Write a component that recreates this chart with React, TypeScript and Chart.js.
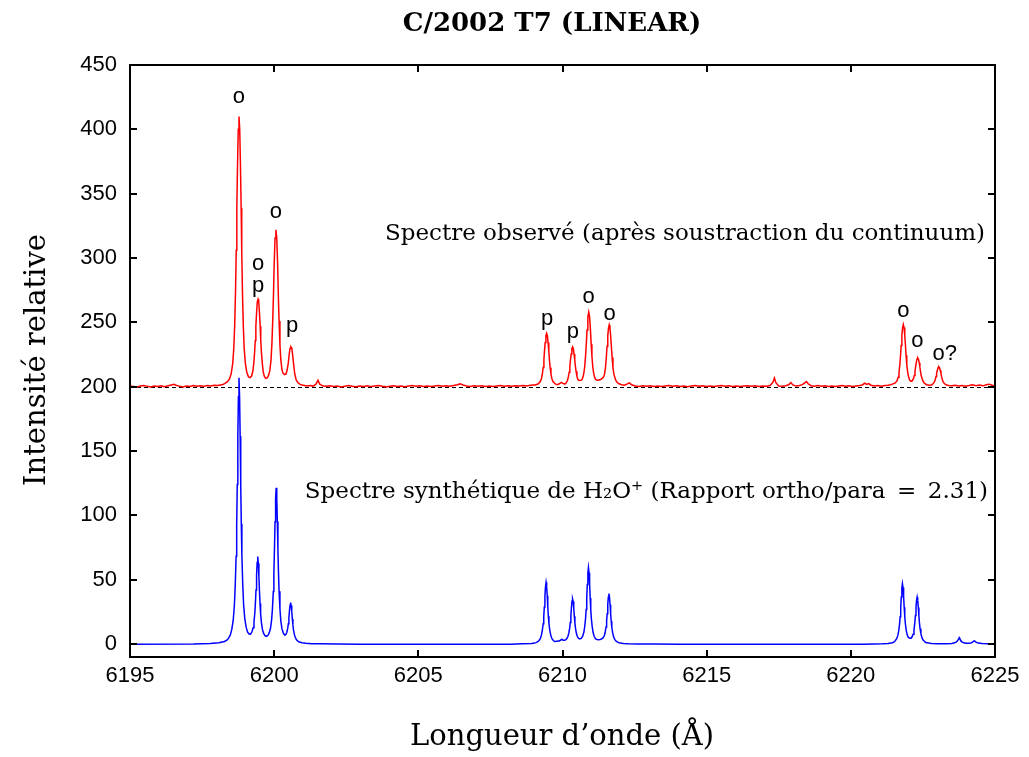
import { useEffect, useRef } from "react";
import { Chart, registerables } from "chart.js";

Chart.register(...registerables);

const WIDTH = 1029;
const HEIGHT = 757;

const chartTitle = "C/2002 T7 (LINEAR)";
const xAxisTitle = "Longueur d\u2019onde (\u00c5)";
const yAxisTitle = "Intensit\u00e9 relative";
const observedCaption = "Spectre observ\u00e9 (apr\u00e8s soustraction du continuum)";
const syntheticCaption = "Spectre synth\u00e9tique de H\u2082O\u207a (Rapport ortho/para\u2002=\u20022.31)";

const xTickValues = [6195, 6200, 6205, 6210, 6215, 6220, 6225];
const yTickValues = [0, 50, 100, 150, 200, 250, 300, 350, 400, 450];
const xRange = [6195, 6225];
const yRange = [-10, 450];

// continuum level of the observed spectrum (dashed reference line)
const continuumLevel = 200;

// observed spectrum, continuum subtracted then shifted to 200: [wavelength Å, intensity]
const observedSpectrum: [number, number][] = [
  [6195.0, 200.6], [6195.12, 200.2], [6195.24, 199.8], [6195.36, 200.5], [6195.48, 201.0],
  [6195.6, 200.3], [6195.72, 199.9], [6195.84, 200.6], [6195.96, 200.2], [6196.08, 200.8],
  [6196.2, 200.1], [6196.32, 200.7], [6196.44, 201.4], [6196.52, 201.9], [6196.6, 201.2],
  [6196.72, 200.3], [6196.84, 199.9], [6196.96, 200.6], [6197.08, 200.2], [6197.2, 200.9],
  [6197.32, 200.4], [6197.44, 200.8], [6197.56, 200.3], [6197.68, 201.0], [6197.8, 200.6],
  [6197.92, 201.2], [6198.04, 200.9], [6198.14, 201.4], [6198.22, 201.8],
  [6198.28, 202.4], [6198.38, 203.9], [6198.45, 206], [6198.51, 210.2], [6198.56, 217.5],
  [6198.6, 230], [6198.63, 247], [6198.66, 274], [6198.685, 306], [6198.705, 339],
  [6198.73, 373], [6198.755, 400], [6198.78, 410], [6198.805, 400], [6198.83, 373],
  [6198.855, 339], [6198.875, 306], [6198.9, 274], [6198.93, 247], [6198.96, 230],
  [6199.0, 218.3], [6199.05, 211.3], [6199.11, 207.7], [6199.17, 207.1], [6199.22, 208.5],
  [6199.26, 212], [6199.29, 217.5], [6199.32, 226], [6199.345, 236], [6199.365, 247],
  [6199.39, 257.5], [6199.415, 266], [6199.44, 268], [6199.465, 266], [6199.49, 257.5],
  [6199.515, 247], [6199.535, 236], [6199.56, 226], [6199.59, 218], [6199.62, 211.7],
  [6199.66, 208], [6199.71, 206.5], [6199.76, 206.8], [6199.81, 209.2], [6199.85, 212.5],
  [6199.89, 220.5], [6199.92, 232.5], [6199.95, 251], [6199.975, 270.5], [6200.0, 295],
  [6200.03, 315.5], [6200.06, 322], [6200.09, 315.5], [6200.12, 295], [6200.145, 270.5],
  [6200.17, 251], [6200.2, 232.5], [6200.23, 221.2], [6200.27, 213.2], [6200.31, 210.4],
  [6200.36, 209.5], [6200.41, 210], [6200.45, 213], [6200.49, 218.5], [6200.52, 225],
  [6200.55, 230], [6200.58, 231], [6200.61, 230], [6200.64, 225], [6200.67, 218.5],
  [6200.71, 210.5], [6200.76, 205.5], [6200.82, 203.2], [6200.9, 201.8], [6200.97, 201.4],
  [6201.05, 201], [6201.15, 200.5], [6201.25, 201], [6201.35, 200.5], [6201.45, 202],
  [6201.52, 205], [6201.58, 202], [6201.7, 200.5],
  [6201.8, 200.3], [6201.93, 200.8], [6202.06, 200.2], [6202.19, 200.6],
  [6202.32, 199.9], [6202.45, 200.4], [6202.58, 200.9], [6202.71, 200.3], [6202.84, 200.0],
  [6202.97, 200.6], [6203.1, 200.2], [6203.23, 200.7], [6203.36, 200.1], [6203.49, 200.5],
  [6203.62, 200.9], [6203.75, 200.3], [6203.88, 199.9], [6204.01, 200.4], [6204.14, 200.8],
  [6204.27, 200.2], [6204.4, 200.6], [6204.53, 200.0], [6204.66, 200.5], [6204.79, 200.9],
  [6204.92, 200.3], [6205.05, 200.7], [6205.18, 200.2], [6205.31, 200.6], [6205.44, 200.1],
  [6205.57, 200.5], [6205.7, 200.9], [6205.83, 200.3], [6205.96, 200.7], [6206.09, 200.4],
  [6206.22, 200.9], [6206.35, 201.6], [6206.45, 202.2], [6206.55, 201.3], [6206.68, 200.6],
  [6206.81, 200.2], [6206.94, 200.7], [6207.07, 200.3], [6207.2, 200.8], [6207.33, 200.2],
  [6207.46, 200.6], [6207.59, 200.1], [6207.72, 200.5], [6207.85, 200.9], [6207.98, 200.4],
  [6208.11, 200.8], [6208.24, 200.3], [6208.37, 200.7], [6208.5, 200.5], [6208.63, 201.0],
  [6208.76, 200.6], [6208.89, 201.1], [6208.98, 201.3],
  [6209.05, 201.3], [6209.15, 202.1], [6209.23, 204], [6209.27, 206.4], [6209.3, 209.7],
  [6209.33, 215], [6209.355, 221.2], [6209.375, 227.7], [6209.4, 234.3], [6209.425, 239.7],
  [6209.45, 241.5], [6209.475, 239.7], [6209.5, 234.3], [6209.525, 227.7], [6209.545, 221.2],
  [6209.57, 215], [6209.6, 209.7], [6209.63, 206.4], [6209.67, 204], [6209.75, 202.2],
  [6209.82, 201.6], [6209.89, 202.3], [6209.96, 203.4], [6210.02, 202.6], [6210.08, 202.0],
  [6210.13, 203], [6210.17, 204.8], [6210.2, 207.3], [6210.23, 211.2], [6210.255, 215.8],
  [6210.275, 220.5], [6210.3, 225.5], [6210.325, 229.5], [6210.35, 231], [6210.375, 229.5],
  [6210.4, 225.5], [6210.425, 221], [6210.445, 216.4], [6210.47, 212], [6210.5, 208.2],
  [6210.53, 205.8], [6210.57, 204.8], [6210.62, 205], [6210.67, 205.3], [6210.71, 207.5],
  [6210.74, 210.5], [6210.77, 215.5], [6210.8, 224], [6210.825, 233], [6210.85, 244],
  [6210.88, 254.3], [6210.91, 258], [6210.94, 254.3], [6210.97, 244], [6210.995, 233],
  [6211.02, 224], [6211.05, 215.5], [6211.08, 210.5], [6211.11, 207.5], [6211.15, 205.6],
  [6211.2, 205], [6211.25, 205.2], [6211.3, 205.4], [6211.34, 206], [6211.39, 206.7],
  [6211.43, 207.8], [6211.46, 210], [6211.49, 215], [6211.52, 222.8], [6211.545, 231.5],
  [6211.57, 239.5], [6211.595, 245.5], [6211.62, 248], [6211.645, 245.5], [6211.67, 239.5],
  [6211.695, 231.5], [6211.72, 222.8], [6211.75, 215], [6211.78, 210], [6211.81, 207.5],
  [6211.85, 205], [6211.9, 203.3], [6211.96, 202.3], [6212.05, 201.6], [6212.15, 201.2],
  [6212.25, 202.2], [6212.32, 203.0], [6212.4, 201.5],
  [6212.52, 200.6], [6212.65, 200.2], [6212.78, 200.7], [6212.91, 200.3], [6213.04, 200.8],
  [6213.17, 200.2], [6213.3, 200.6], [6213.43, 200.1], [6213.56, 200.5], [6213.69, 200.9],
  [6213.82, 200.3], [6213.95, 200.7], [6214.08, 200.2], [6214.21, 200.6], [6214.34, 200.0],
  [6214.47, 200.5], [6214.6, 200.9], [6214.73, 200.3], [6214.86, 200.7], [6214.99, 200.2],
  [6215.12, 200.6], [6215.25, 200.1], [6215.38, 200.5], [6215.51, 200.9], [6215.64, 200.3],
  [6215.77, 200.7], [6215.9, 200.2], [6216.03, 200.6], [6216.16, 200.1], [6216.29, 200.5],
  [6216.42, 200.8], [6216.55, 200.3], [6216.68, 200.7], [6216.81, 200.2], [6216.94, 200.6],
  [6217.07, 200.3], [6217.2, 200.9], [6217.3, 203.5], [6217.35, 206.8], [6217.4, 203.2],
  [6217.5, 200.6], [6217.62, 200.3], [6217.74, 200.8], [6217.84, 201.5], [6217.92, 203.2],
  [6217.99, 201.4], [6218.1, 200.5], [6218.22, 200.9], [6218.32, 201.6], [6218.4, 203.0],
  [6218.46, 204.0], [6218.52, 202.3], [6218.62, 200.8], [6218.74, 200.4], [6218.86, 200.9],
  [6218.98, 200.3], [6219.1, 200.7], [6219.22, 200.2], [6219.34, 200.6], [6219.46, 200.1],
  [6219.58, 200.5], [6219.7, 200.9], [6219.82, 200.3], [6219.94, 200.7], [6220.06, 200.2],
  [6220.18, 200.6], [6220.3, 200.9], [6220.4, 201.4], [6220.48, 202.8], [6220.55, 201.8],
  [6220.62, 202.4], [6220.7, 201.2], [6220.82, 200.6], [6220.94, 200.9], [6221.06, 200.4],
  [6221.18, 201.0], [6221.28, 201.2],
  [6221.38, 201.5], [6221.46, 202.2], [6221.54, 203], [6221.6, 204.5], [6221.64, 207.3],
  [6221.67, 211], [6221.7, 217.3], [6221.725, 224.5], [6221.745, 232], [6221.77, 240],
  [6221.795, 246], [6221.82, 248.5], [6221.845, 246], [6221.87, 240], [6221.895, 232],
  [6221.915, 224.5], [6221.94, 217.3], [6221.97, 211.5], [6222.0, 208], [6222.04, 205.2],
  [6222.09, 204.2], [6222.13, 204.6], [6222.17, 206.3], [6222.2, 208.7], [6222.225, 212],
  [6222.245, 215.3], [6222.27, 218.7], [6222.295, 221.6], [6222.32, 222.5], [6222.345, 221.6],
  [6222.37, 218.7], [6222.395, 215.3], [6222.415, 212], [6222.44, 208.7], [6222.47, 206.3],
  [6222.51, 204], [6222.56, 202.6], [6222.63, 201.6], [6222.72, 201.2], [6222.8, 201.4],
  [6222.85, 202.3], [6222.9, 203.8], [6222.93, 205.8], [6222.955, 208], [6222.975, 210.4],
  [6223.0, 212.8], [6223.025, 214.8], [6223.05, 215.5], [6223.075, 214.8], [6223.1, 212.8],
  [6223.125, 210.4], [6223.145, 208], [6223.17, 205.8], [6223.2, 203.8], [6223.25, 202.3],
  [6223.32, 201.4], [6223.4, 201.0], [6223.5, 200.7], [6223.62, 201.2], [6223.74, 200.6],
  [6223.86, 201.0], [6223.98, 200.4], [6224.1, 200.9], [6224.22, 201.5], [6224.34, 200.8],
  [6224.46, 201.4], [6224.58, 200.7], [6224.7, 201.6], [6224.8, 202.0], [6224.9, 201.2],
  [6225.0, 200.8],
];

// synthetic H2O+ spectrum, ortho/para = 2.31: [wavelength Å, intensity]
const syntheticSpectrum: [number, number][] = [
  [6195.0, 0], [6197.2, 0.1], [6197.78, 0.5], [6198.08, 1.0], [6198.28, 2.1],
  [6198.38, 3.5], [6198.43, 5], [6198.48, 7.2], [6198.53, 11.4], [6198.58, 18.6],
  [6198.62, 30], [6198.65, 45.5], [6198.68, 68.3], [6198.7, 93], [6198.72, 124],
  [6198.74, 161.5], [6198.76, 192.5], [6198.78, 207], [6198.8, 192.5], [6198.82, 161.5],
  [6198.84, 124], [6198.86, 93.5], [6198.88, 68.8], [6198.91, 46.7], [6198.94, 30.8],
  [6198.98, 20], [6199.03, 13], [6199.08, 9.3], [6199.13, 7.9], [6199.18, 7.8],
  [6199.23, 9.6], [6199.27, 12.7], [6199.3, 17.2], [6199.33, 24.4], [6199.35, 32.3],
  [6199.37, 42], [6199.39, 53.8], [6199.41, 63.5], [6199.43, 68], [6199.45, 62.9],
  [6199.47, 53], [6199.49, 41.3], [6199.51, 31.5], [6199.53, 23.6], [6199.56, 16.5],
  [6199.59, 11.8], [6199.63, 8.5], [6199.68, 6.6], [6199.73, 6.0], [6199.78, 6.7],
  [6199.82, 8.3], [6199.87, 11.9], [6199.91, 18.4], [6199.94, 27.4], [6199.97, 40.8],
  [6199.99, 55.2], [6200.01, 73.3], [6200.03, 95], [6200.05, 113.2], [6200.07, 121.5],
  [6200.09, 113.2], [6200.11, 95.3], [6200.13, 73.6], [6200.15, 55.5], [6200.17, 41.1],
  [6200.2, 27.5], [6200.23, 18.3], [6200.27, 12], [6200.32, 8.4], [6200.37, 7],
  [6200.41, 7.6], [6200.44, 9.3], [6200.47, 12.2], [6200.49, 15.8], [6200.51, 20.2],
  [6200.53, 25.7], [6200.55, 30.2], [6200.57, 32.3], [6200.59, 30], [6200.61, 25.3],
  [6200.63, 19.6], [6200.65, 15], [6200.67, 11.1], [6200.7, 7.6], [6200.73, 5.3],
  [6200.77, 3.5], [6200.82, 2.3], [6200.87, 1.6], [6200.97, 1.0], [6201.1, 0.6],
  [6201.3, 0.35], [6201.6, 0.2], [6202.2, 0.05], [6203.0, 0], [6208.2, 0],
  [6208.6, 0.3], [6208.93, 0.5], [6209.03, 0.8], [6209.08, 1.2], [6209.13, 1.7],
  [6209.18, 2.6], [6209.23, 4.3], [6209.27, 7], [6209.3, 10.6], [6209.33, 15.8],
  [6209.35, 21.6], [6209.37, 28.8], [6209.39, 37.4], [6209.41, 44.6], [6209.43, 48],
  [6209.45, 44.7], [6209.47, 37.5], [6209.49, 28.9], [6209.51, 21.7], [6209.53, 15.9],
  [6209.56, 10.7], [6209.59, 7.2], [6209.63, 4.4], [6209.68, 2.8], [6209.73, 2.0],
  [6209.8, 2.2], [6209.88, 2.4], [6209.94, 3.2], [6209.98, 3.8], [6210.02, 3.0],
  [6210.07, 3.0], [6210.12, 3.5], [6210.15, 4.3], [6210.19, 6.1], [6210.22, 8.7],
  [6210.25, 12.6], [6210.27, 16.8], [6210.29, 22], [6210.31, 28.3], [6210.33, 33.6],
  [6210.35, 35], [6210.37, 33.2], [6210.39, 27.9], [6210.41, 21.7], [6210.43, 16.5],
  [6210.45, 12.4], [6210.48, 8.6], [6210.51, 6.1], [6210.55, 4.6], [6210.6, 4.0],
  [6210.65, 4.4], [6210.7, 6.1], [6210.74, 9.2], [6210.77, 13.5], [6210.8, 20],
  [6210.82, 27], [6210.84, 35.8], [6210.86, 46.4], [6210.88, 55.3], [6210.9, 59.4],
  [6210.92, 55.4], [6210.94, 46.5], [6210.96, 35.9], [6210.98, 27.1], [6211.0, 20],
  [6211.03, 13.6], [6211.06, 9.2], [6211.1, 5.9], [6211.15, 4.1], [6211.2, 3.5],
  [6211.25, 3.4], [6211.3, 3.5], [6211.35, 4], [6211.41, 5], [6211.45, 6.5],
  [6211.48, 9.2], [6211.51, 13.3], [6211.53, 18], [6211.55, 23.7], [6211.57, 30.7],
  [6211.59, 36.6], [6211.61, 39.3], [6211.63, 36.5], [6211.65, 30.6], [6211.67, 23.6],
  [6211.69, 17.8], [6211.71, 13.1], [6211.74, 8.8], [6211.77, 5.9], [6211.81, 3.7],
  [6211.86, 2.3], [6211.91, 1.5], [6211.96, 1.1], [6212.01, 0.8], [6212.11, 0.55],
  [6212.3, 0.3], [6212.6, 0.15], [6213.2, 0.05], [6214.0, 0], [6220.4, 0],
  [6220.8, 0.1], [6221.1, 0.25], [6221.29, 0.5], [6221.39, 0.8], [6221.44, 1.1],
  [6221.49, 1.6], [6221.54, 2.6], [6221.59, 4.2], [6221.63, 6.8], [6221.66, 10.3],
  [6221.69, 15.5], [6221.71, 21.2], [6221.73, 28.2], [6221.75, 36.7], [6221.77, 43.7],
  [6221.79, 47], [6221.81, 44], [6221.83, 37.1], [6221.85, 28.7], [6221.87, 21.7],
  [6221.89, 16], [6221.92, 10.9], [6221.95, 7.6], [6221.99, 5.4], [6222.04, 4.5],
  [6222.09, 4.6], [6222.13, 5.9], [6222.16, 7.7], [6222.19, 10.8], [6222.22, 16.9],
  [6222.24, 22.2], [6222.26, 28.7], [6222.28, 34], [6222.3, 36.5], [6222.32, 33.9],
  [6222.34, 28.5], [6222.36, 22], [6222.38, 16.5], [6222.4, 12.2], [6222.43, 8.2],
  [6222.46, 5.5], [6222.5, 3.4], [6222.55, 2.2], [6222.6, 1.3], [6222.7, 0.8],
  [6222.8, 0.55], [6223.0, 0.3], [6223.3, 0.3], [6223.5, 0.5], [6223.6, 1.0],
  [6223.66, 1.8], [6223.7, 2.6], [6223.74, 4.1], [6223.76, 5], [6223.78, 4.1],
  [6223.82, 2.6], [6223.86, 1.6], [6223.92, 1.0], [6224.0, 0.7], [6224.1, 0.6],
  [6224.16, 0.9], [6224.22, 1.6], [6224.26, 2.3], [6224.28, 2.5], [6224.3, 2.3],
  [6224.34, 1.6], [6224.42, 0.8], [6224.55, 0.4], [6224.75, 0.2], [6225.0, 0.1],
];

// ortho (o) / para (p) identifications: label, wavelength, intensity of the label baseline
const lineIds: [string, number, number][] = [
  ["o", 6198.78, 420.5],
  ["o", 6199.44, 290.7],
  ["p", 6199.44, 273.6],
  ["o", 6200.06, 331],
  ["p", 6200.62, 242.5],
  ["p", 6209.47, 248],
  ["p", 6210.36, 237.8],
  ["o", 6210.91, 265],
  ["o", 6211.63, 251.8],
  ["o", 6221.82, 254],
  ["o", 6222.31, 230.8],
  ["o?", 6223.26, 220.7],
];

const SANS = "'Liberation Sans', Arial, sans-serif";
const SERIF = "'DejaVu Serif', serif";

const decorations = {
  id: "decorations",
  beforeDatasetsDraw(chart: any) {
    const { ctx, chartArea: a, scales } = chart;
    const y = Math.round(scales.y.getPixelForValue(continuumLevel)) + 0.5;
    ctx.save();
    ctx.strokeStyle = "#000";
    ctx.lineWidth = 1;
    ctx.setLineDash([4, 3]);
    ctx.beginPath();
    ctx.moveTo(a.left, y);
    ctx.lineTo(a.right, y);
    ctx.stroke();
    ctx.restore();
  },
  afterDraw(chart: any) {
    const { ctx, chartArea: a, scales } = chart;
    const xs = scales.x;
    const ys = scales.y;
    const tick = 7;
    ctx.save();
    ctx.strokeStyle = "#000";
    ctx.lineWidth = 2;
    ctx.strokeRect(a.left, a.top, a.right - a.left, a.bottom - a.top);

    ctx.beginPath();
    for (const v of xTickValues) {
      const px = Math.round(xs.getPixelForValue(v));
      ctx.moveTo(px, a.bottom);
      ctx.lineTo(px, a.bottom - tick);
      ctx.moveTo(px, a.top);
      ctx.lineTo(px, a.top + tick);
    }
    for (const v of yTickValues) {
      const py = Math.round(ys.getPixelForValue(v));
      ctx.moveTo(a.left, py);
      ctx.lineTo(a.left + tick, py);
      ctx.moveTo(a.right, py);
      ctx.lineTo(a.right - tick, py);
    }
    ctx.stroke();

    // line identifications
    ctx.fillStyle = "#000";
    ctx.font = `22px ${SANS}`;
    ctx.textAlign = "center";
    ctx.textBaseline = "alphabetic";
    for (const [label, w, level] of lineIds) {
      ctx.fillText(label, xs.getPixelForValue(w), ys.getPixelForValue(level));
    }

    // spectrum captions
    ctx.font = `23px ${SERIF}`;
    ctx.textAlign = "right";
    ctx.fillText(observedCaption, 985, 240);
    ctx.fillText(syntheticCaption, 988, 498);

    // titles
    ctx.textAlign = "center";
    ctx.textBaseline = "middle";
    ctx.font = `bold 26px ${SERIF}`;
    ctx.fillText(chartTitle, 552, 24);
    ctx.font = `29px ${SERIF}`;
    ctx.fillText(xAxisTitle, 562, 737);
    ctx.translate(37, 360);
    ctx.rotate(-Math.PI / 2);
    ctx.fillText(yAxisTitle, 0, 0);
    ctx.restore();
  },
};

export default function App() {
  const canvasRef = useRef<HTMLCanvasElement | null>(null);

  useEffect(() => {
    const canvas = canvasRef.current;
    if (!canvas) return;
    const chart = new Chart(canvas, {
      type: "line",
      data: {
        datasets: [
          {
            label: "observed",
            data: observedSpectrum.map(([x, y]) => ({ x, y })),
            borderColor: "#ff0000",
            borderWidth: 1.5,
            pointRadius: 0,
            tension: 0,
            fill: false,
            order: 1,
          },
          {
            label: "synthetic",
            data: syntheticSpectrum.map(([x, y]) => ({ x, y })),
            borderColor: "#0000ff",
            borderWidth: 1.5,
            pointRadius: 0,
            tension: 0,
            fill: false,
            order: 0,
          },
        ],
      },
      options: {
        responsive: false,
        devicePixelRatio: 1,
        animation: false,
        events: [],
        layout: { padding: { left: 0, top: 65, right: 34, bottom: 0 } },
        plugins: {
          legend: { display: false },
          title: { display: false },
          tooltip: { enabled: false },
        },
        scales: {
          x: {
            type: "linear",
            min: xRange[0],
            max: xRange[1],
            afterBuildTicks: (s: any) => {
              s.ticks = xTickValues.map((value) => ({ value }));
            },
            afterFit: (s: any) => {
              s.height = 100;
            },
            grid: { display: false, drawTicks: false },
            border: { display: false },
            ticks: {
              color: "#000",
              font: { family: SANS, size: 22 },
              padding: 6,
              maxRotation: 0,
              autoSkip: false,
              callback: (v: any) => String(v),
            },
          },
          y: {
            type: "linear",
            min: yRange[0],
            max: yRange[1],
            afterBuildTicks: (s: any) => {
              s.ticks = yTickValues.map((value) => ({ value }));
            },
            afterFit: (s: any) => {
              s.width = 130;
            },
            grid: { display: false, drawTicks: false },
            border: { display: false },
            ticks: {
              color: "#000",
              font: { family: SANS, size: 22 },
              padding: 13,
              autoSkip: false,
              callback: (v: any) => String(v),
            },
          },
        },
      },
      plugins: [decorations],
    });
    return () => chart.destroy();
  }, []);

  return (
    <div style={{ position: "absolute", left: 0, top: 0, width: WIDTH, height: HEIGHT, background: "#fff" }}>
      <canvas ref={canvasRef} width={WIDTH} height={HEIGHT} style={{ display: "block", width: WIDTH, height: HEIGHT }} />
    </div>
  );
}
